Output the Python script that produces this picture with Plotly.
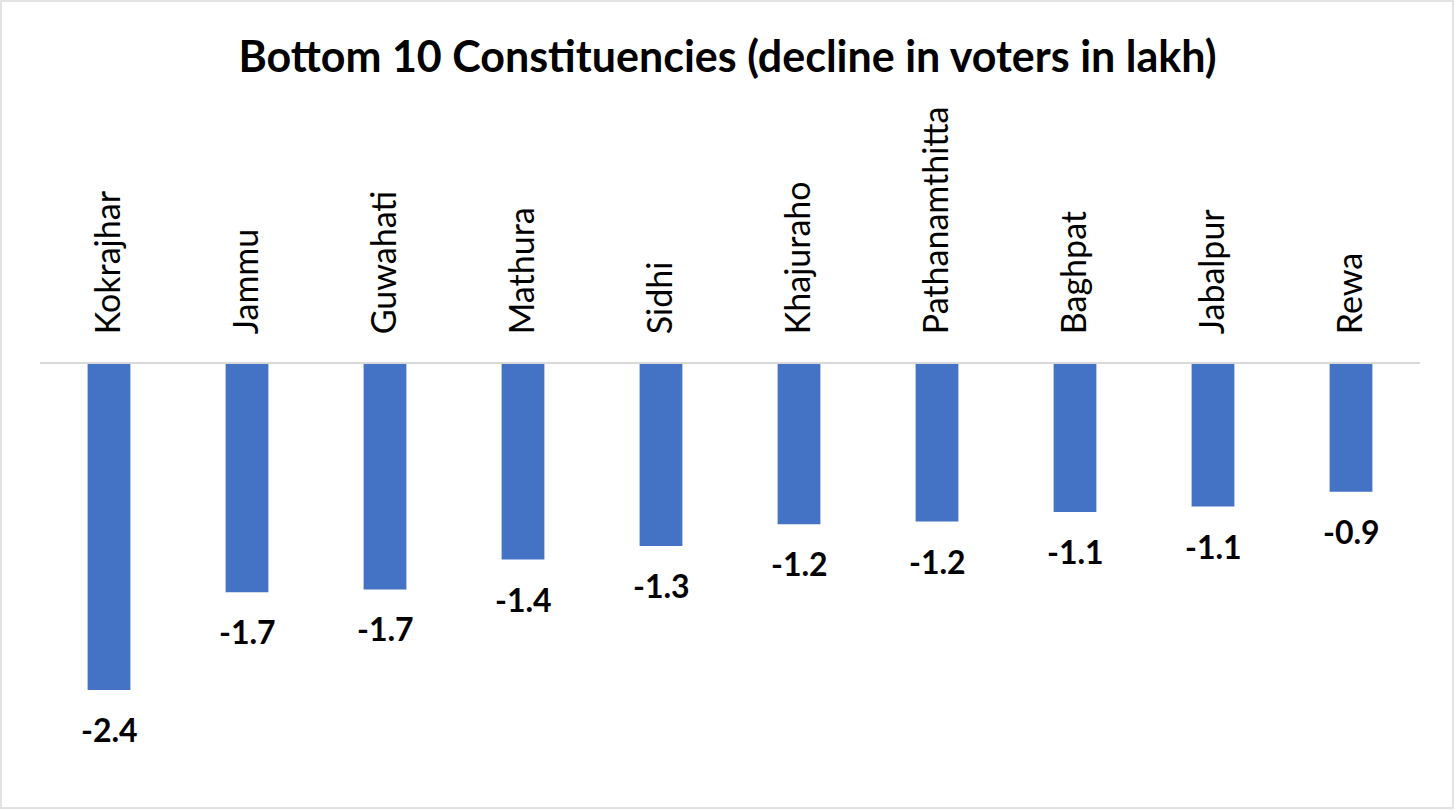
import plotly.graph_objects as go

constituencies = ["Kokrajhar", "Jammu", "Guwahati", "Mathura", "Sidhi",
                  "Khajuraho", "Pathanamthitta", "Baghpat", "Jabalpur", "Rewa"]
decline_lakh = [-2.40, -1.68, -1.66, -1.44, -1.34, -1.18, -1.16, -1.09, -1.05, -0.94]

W, H = 1455, 810
L, R, T, B = 40, 35, 364, 59
pw, ph = W - L - R, H - T - B

fig = go.Figure(go.Bar(
    x=constituencies, y=decline_lakh,
    marker=dict(color="#4472C4", line=dict(width=0)),
    width=0.31,
    cliponaxis=False,
))

annotations = [
    dict(x=c, y=v, xref="x", yref="y", text=f"<b>{v:.1f}</b>", showarrow=False,
         yanchor="top", xanchor="center", yshift=-18,
         font=dict(family="Lato", size=32, color="#000000"))
    for c, v in zip(constituencies, decline_lakh)
]

fig.update_layout(
    width=W, height=H,
    margin=dict(l=L, r=R, t=T, b=B),
    paper_bgcolor="white", plot_bgcolor="white",
    showlegend=False,
    title=dict(text="<b>Bottom 10 Constituencies (decline in voters in lakh)</b>",
               x=0.5, xanchor="center", y=1 - 57 / H, yanchor="middle",
               font=dict(family="Lato", size=43, color="#000000")),
    xaxis=dict(side="top", tickangle=-90, showgrid=False, zeroline=False,
               showline=True, linecolor="#d9d9d9", linewidth=2, ticks="",
               ticklabelstandoff=21,
               tickfont=dict(family="Lato", size=34, color="#000000")),
    yaxis=dict(range=[-2.85, 0], visible=False, showgrid=False, zeroline=False),
    annotations=annotations,
    shapes=[dict(type="rect", xref="paper", yref="paper",
                 x0=(1 - L) / pw, x1=(W - 2 - L) / pw,
                 y0=(H - B - (H - 2)) / ph, y1=(H - B - 1) / ph,
                 line=dict(color="#d9d9d9", width=1.5), fillcolor="rgba(0,0,0,0)")],
)

fig.write_html("out.html", config={"displayModeBar": False},
               post_script="document.body.style.margin='0';document.body.style.padding='0';")
